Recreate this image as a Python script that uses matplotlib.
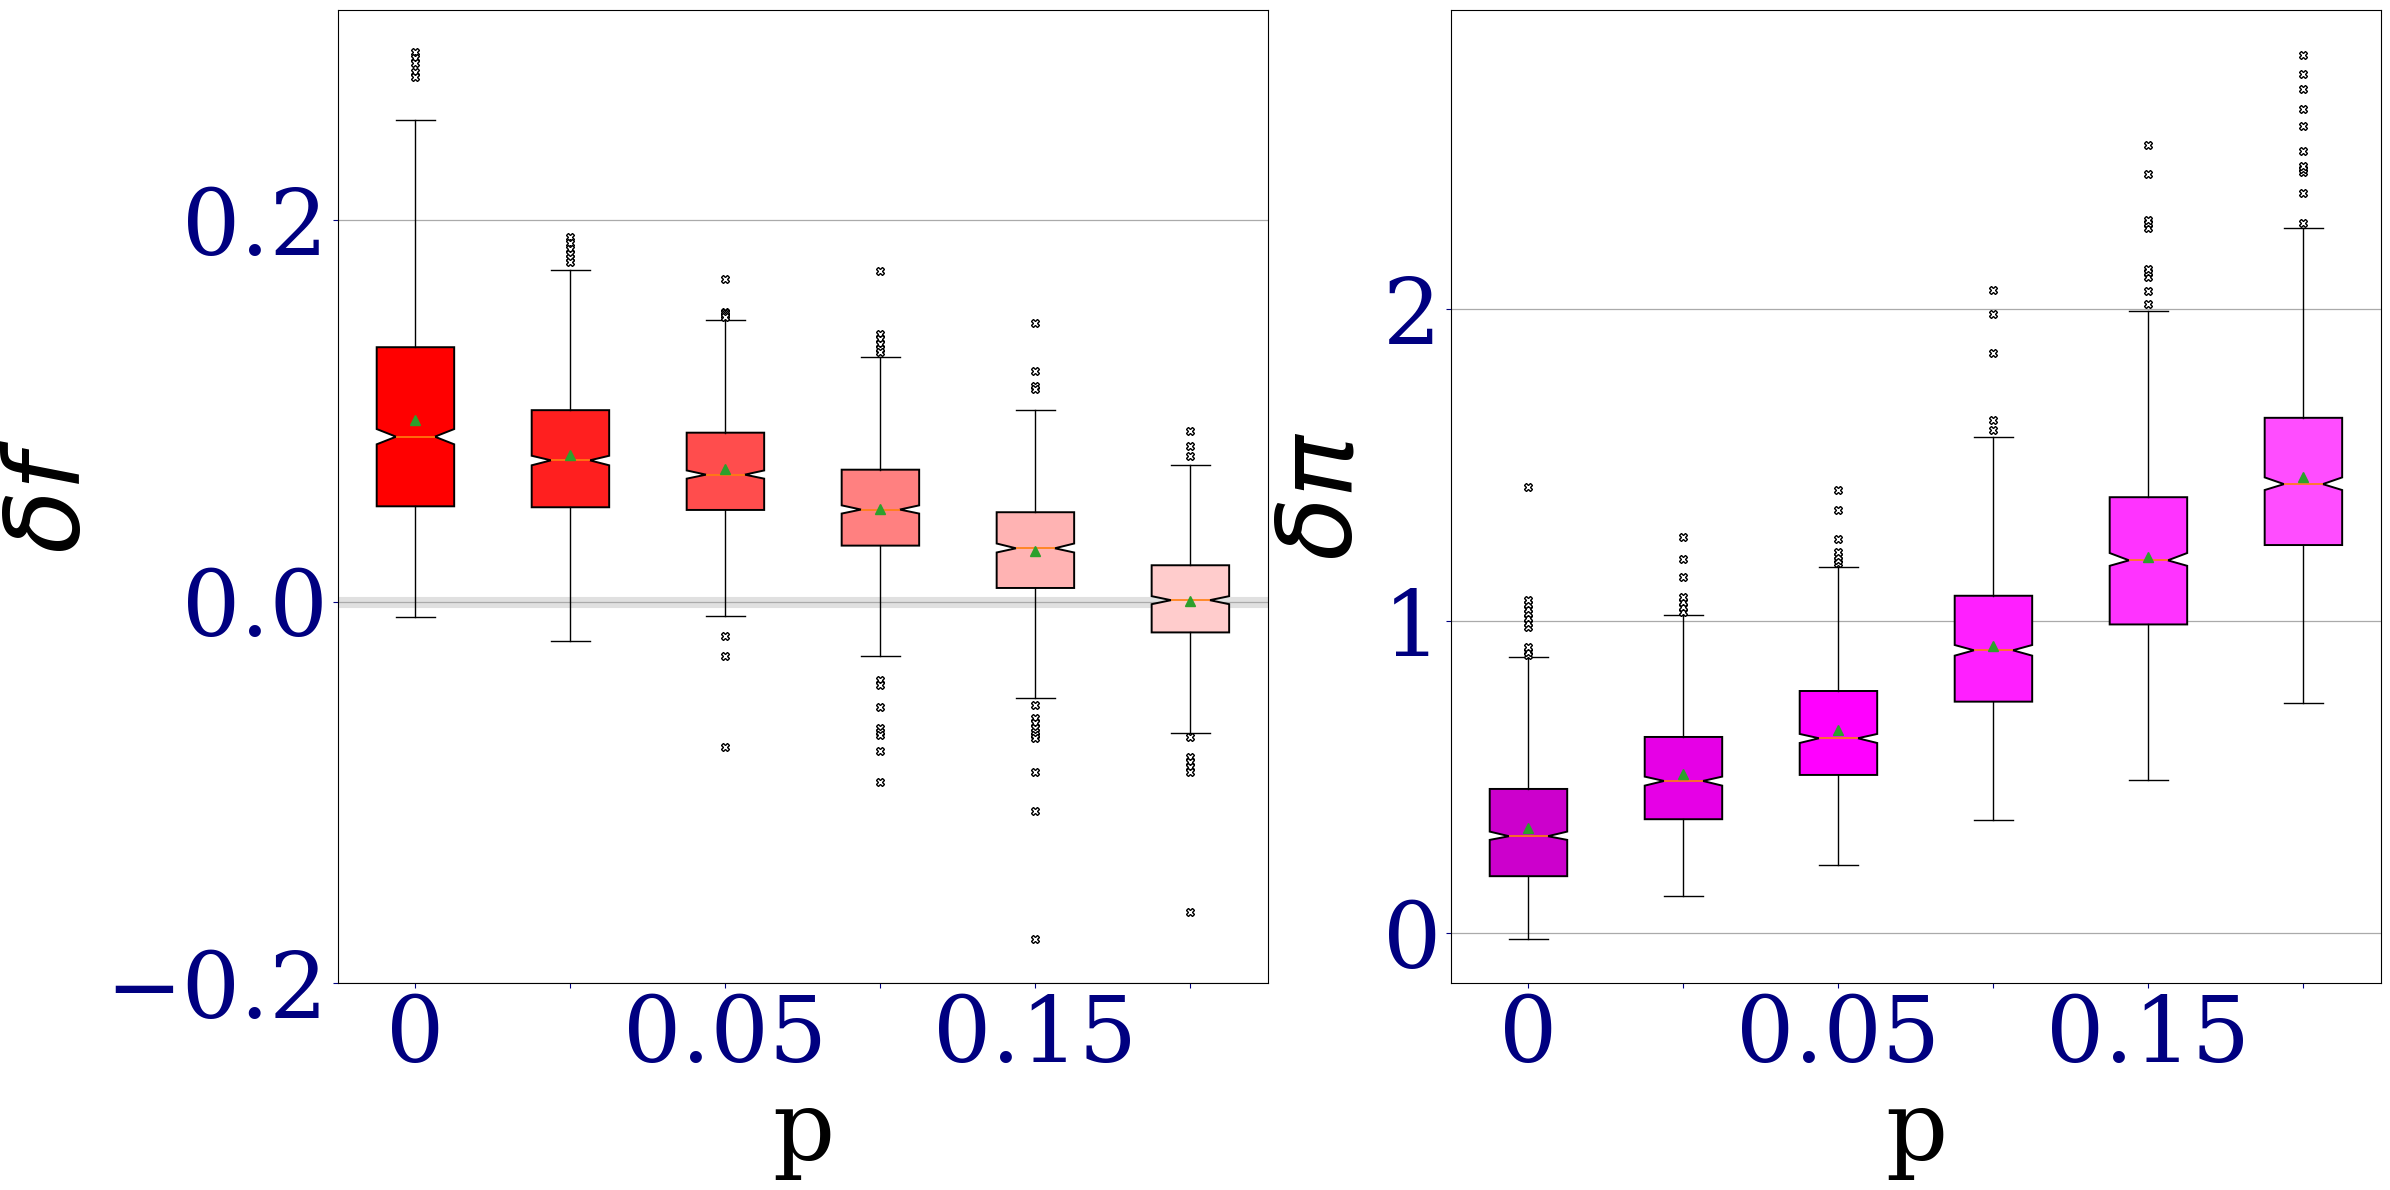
import matplotlib
matplotlib.use('Agg')
import matplotlib.pyplot as plt

plt.rcParams['font.family'] = ['DejaVu Serif']

positions = [1, 2, 3, 4, 5, 6]
xtick_labels = ['0', '', '0.05', '', '0.15', '']

# left panel: delta f
med_f = [0.0864, 0.0740, 0.0665, 0.0482, 0.0279, 0.0007]
q1_f = [0.0499, 0.0494, 0.0480, 0.0293, 0.0071, -0.0162]
q3_f = [0.1333, 0.1003, 0.0885, 0.0691, 0.0468, 0.0190]
lo_f = [-0.0083, -0.0208, -0.0078, -0.0283, -0.0508, -0.0691]
hi_f = [0.2525, 0.1738, 0.1478, 0.1284, 0.1002, 0.0717]
mean_f = [0.0949, 0.0770, 0.0694, 0.0487, 0.0265, 0.0004]
cilo_f = [0.0824, 0.0714, 0.0644, 0.0461, 0.0257, -0.0014]
cihi_f = [0.0904, 0.0764, 0.0687, 0.0504, 0.0304, 0.0028]
fliers_f = [
    [0.288, 0.285, 0.2825, 0.2773, 0.2747],
    [0.191, 0.188, 0.185, 0.182, 0.180, 0.178],
    [0.169, 0.152, 0.151, 0.150, 0.149, -0.0182, -0.0283, -0.0764],
    [0.1733, 0.1403, 0.1377, 0.1351, 0.1325, 0.1307, -0.0412, -0.0438,
     -0.0555, -0.0662, -0.0683, -0.0700, -0.0782, -0.0944],
    [0.1461, 0.1206, 0.1132, 0.1115, -0.0545, -0.0613, -0.0639, -0.0665,
     -0.0683, -0.0700, -0.0718, -0.0892, -0.1100, -0.1770],
    [0.0892, 0.0817, 0.0761, -0.0712, -0.0813, -0.0840, -0.0866, -0.0892, -0.1628],
]
colors_f = ['#ff0000', '#ff1f1f', '#ff4d4d', '#ff8080', '#ffb3b3', '#ffcccc']

# right panel: delta pi
med_p = [0.3109, 0.4881, 0.6250, 0.9071, 1.1955, 1.440]
q1_p = [0.1827, 0.3654, 0.5074, 0.7424, 0.990, 1.2446]
q3_p = [0.4625, 0.6292, 0.7766, 1.082, 1.398, 1.6526]
lo_p = [-0.0192, 0.1186, 0.2179, 0.362, 0.490, 0.737]
hi_p = [0.8846, 1.0192, 1.173, 1.591, 1.994, 2.260]
mean_p = [0.3365, 0.5096, 0.6516, 0.922, 1.205, 1.4615]
cilo_p = [0.2991, 0.4731, 0.6099, 0.8899, 1.178, 1.421]
cihi_p = [0.3257, 0.5020, 0.6388, 0.924, 1.219, 1.4615]
fliers_p = [
    [0.892, 0.903, 0.919, 0.981, 0.994, 1.010, 1.026, 1.041, 1.055, 1.068, 1.4295],
    [1.031, 1.047, 1.063, 1.077, 1.141, 1.199, 1.272],
    [1.186, 1.196, 1.209, 1.221, 1.263, 1.356, 1.420],
    [1.613, 1.645, 1.862, 1.985, 2.064],
    [2.019, 2.059, 2.105, 2.121, 2.131, 2.260, 2.276, 2.286, 2.436, 2.529],
    [2.278, 2.372, 2.441, 2.452, 2.459, 2.508, 2.588, 2.644, 2.708, 2.756, 2.817],
]
colors_p = ['#cc00cc', '#e600e6', '#ff00ff', '#ff1fff', '#ff33ff', '#ff4dff']


def make_stats(med, q1, q3, lo, hi, mean, cilo, cihi, fliers):
    out = []
    for i in range(len(med)):
        out.append(dict(med=med[i], q1=q1[i], q3=q3[i], whislo=lo[i], whishi=hi[i],
                        mean=mean[i], cilo=cilo[i], cihi=cihi[i], fliers=fliers[i]))
    return out


def draw(ax, stats, colors):
    bp = ax.bxp(stats, positions=positions, widths=0.5, patch_artist=True,
                shownotches=True, showmeans=True,
                flierprops=dict(marker='X', markersize=6, markerfacecolor='white',
                                markeredgecolor='black', markeredgewidth=1),
                medianprops=dict(color='#ff7f0e', linewidth=1.2),
                meanprops=dict(marker='^', markerfacecolor='#2ca02c',
                               markeredgecolor='#2ca02c', markersize=7))
    for patch, c in zip(bp['boxes'], colors):
        patch.set_facecolor(c)
        patch.set_edgecolor('black')
        patch.set_linewidth(1.4)
    ax.set_xlim(0.5, 6.5)
    ax.set_xticks(positions)
    ax.set_xticklabels(xtick_labels)
    ax.tick_params(colors='navy', labelsize=66)
    ax.yaxis.grid(True, color='#aaaaaa', linewidth=0.9)
    ax.set_axisbelow(True)
    ax.set_xlabel('p', fontsize=70)
    ax.xaxis.set_label_coords(0.5, -0.106)


fig = plt.figure(figsize=(23.9, 11.9), dpi=100)
ax1 = fig.add_axes([0.1414, 0.1739, 0.3891, 0.8176])
ax2 = fig.add_axes([0.6071, 0.1739, 0.3891, 0.8176])

ax1.axhline(0, color='#e0e0e0', linewidth=8, zorder=0)
draw(ax1, make_stats(med_f, q1_f, q3_f, lo_f, hi_f, mean_f, cilo_f, cihi_f, fliers_f), colors_f)
ax1.set_ylim(-0.2, 0.31)
ax1.set_yticks([-0.2, 0.0, 0.2])
ax1.set_yticklabels(['\u22120.2', '0.0', '0.2'])
ax1.set_ylabel(r'$\delta f$', fontsize=75)
ax1.yaxis.set_label_coords(-0.254, 0.5)

draw(ax2, make_stats(med_p, q1_p, q3_p, lo_p, hi_p, mean_p, cilo_p, cihi_p, fliers_p), colors_p)
ax2.set_ylim(-0.16, 2.96)
ax2.set_yticks([0, 1, 2])
ax2.set_yticklabels(['0', '1', '2'])
ax2.set_ylabel(r'$\delta\pi$', fontsize=75)
ax2.yaxis.set_label_coords(-0.083, 0.5)

fig.savefig('out.png', dpi=100)
